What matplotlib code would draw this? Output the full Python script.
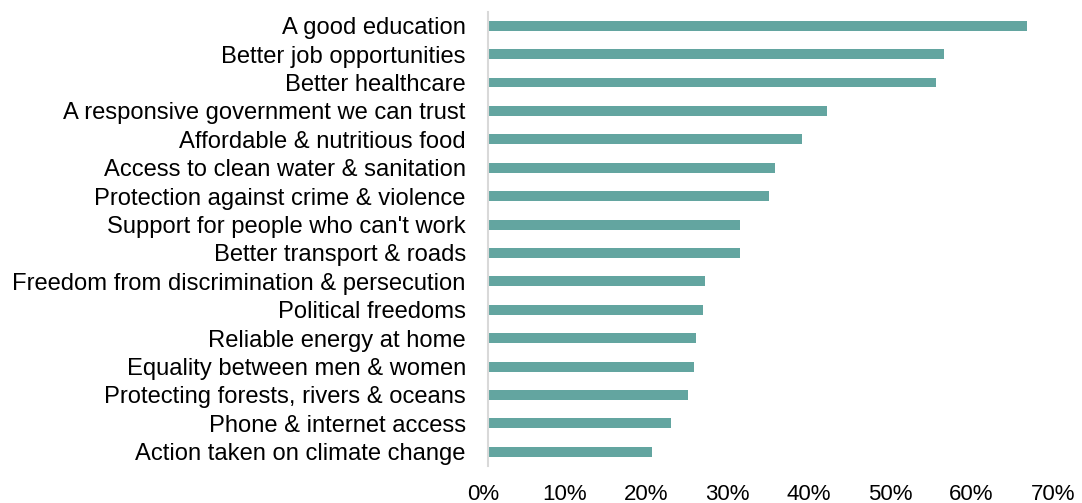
import matplotlib
matplotlib.use("Agg")
import matplotlib.pyplot as plt
import matplotlib.transforms as mtransforms
from matplotlib.ticker import FuncFormatter

plt.rcParams['font.family'] = ['Liberation Sans', 'DejaVu Sans']

categories = [
    "A good education",
    "Better job opportunities",
    "Better healthcare",
    "A responsive government we can trust",
    "Affordable & nutritious food",
    "Access to clean water & sanitation",
    "Protection against crime & violence",
    "Support for people who can't work",
    "Better transport & roads",
    "Freedom from discrimination & persecution",
    "Political freedoms",
    "Reliable energy at home",
    "Equality between men & women",
    "Protecting forests, rivers & oceans",
    "Phone & internet access",
    "Action taken on climate change",
]
shares = [66.2, 56.0, 55.0, 41.6, 38.5, 35.3, 34.5, 30.9, 30.9,
          26.6, 26.4, 25.6, 25.3, 24.6, 22.5, 20.2]
xticks = [0, 10, 20, 30, 40, 50, 60, 70]

fig = plt.figure(figsize=(10.82, 5.03), dpi=100)
ax = fig.add_axes([488 / 1082, 1 - 466 / 503, 570 / 1082, 454.5 / 503])

ax.barh(range(len(categories)), shares, height=0.35, color="#63a5a0")
ax.set_ylim(len(categories) - 0.5, -0.5)
ax.set_xlim(0, 70)

ax.set_yticks(range(len(categories)))
ax.set_yticklabels(categories, fontsize=17.1, color="#000000")
ax.set_xticks(xticks)
ax.xaxis.set_major_formatter(FuncFormatter(lambda v, p: f"{v:.0f}%"))
ax.tick_params(axis="y", length=0, pad=16)
ax.tick_params(axis="x", length=0, pad=13, labelsize=16)

# nudge the percent labels a little to the left
shift = mtransforms.ScaledTranslation(-5 / 100, 0, fig.dpi_scale_trans)
for lbl in ax.get_xticklabels():
    lbl.set_transform(lbl.get_transform() + shift)

for side in ["top", "right", "bottom"]:
    ax.spines[side].set_visible(False)
ax.spines["left"].set_color("#d9d9d9")
ax.spines["left"].set_linewidth(1.5)

fig.savefig("out.png", dpi=100)
